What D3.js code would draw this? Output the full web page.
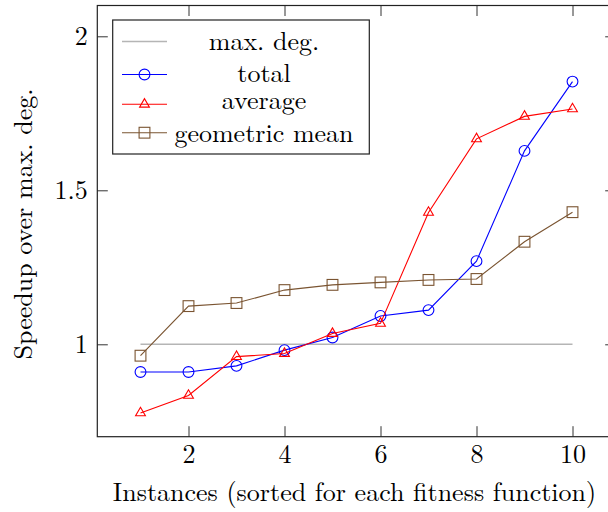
<!DOCTYPE html>
<html><head><meta charset="utf-8">
<script src="https://cdn.jsdelivr.net/npm/d3@7"></script>
<style>
html,body{margin:0;padding:0;background:#fff;}
</style></head>
<body><svg id="chart" width="608" height="512"></svg>
<script>
const xs = [1,2,3,4,5,6,7,8,9,10];
const maxDeg = [1,1,1,1,1,1,1,1,1,1];
const total = [0.910,0.910,0.930,0.981,1.022,1.092,1.111,1.270,1.628,1.853];
const average = [0.777,0.834,0.960,0.970,1.035,1.068,1.428,1.667,1.740,1.764];
const geoMean = [0.963,1.124,1.134,1.176,1.193,1.201,1.209,1.212,1.333,1.429];
const xTicks = [2,4,6,8,10];
const yTicks = [1,1.5,2];
const yTickLabels = ["1","1.5","2"];
const legendLabels = ["max. deg.","total","average","geometric mean"];

const FONT = '"Latin Modern Roman","Liberation Serif",serif';
const svg = d3.select("#chart");
const L=97.3, R=615.7, T=5.5, B=436.7;
const x = d3.scaleLinear().domain([0.1,10.9]).range([L,R]);
const y = d3.scaleLinear().domain([0.7,2.1]).range([B,T]);
const FS = 26;
const tickLen = 10.5;

const gAx = svg.append("g");
const axB = d3.axisBottom(x).tickValues(xTicks).tickSize(-tickLen).tickFormat(d=>d);
const axT = d3.axisTop(x).tickValues(xTicks).tickSize(-tickLen).tickFormat("");
const axL = d3.axisLeft(y).tickValues(yTicks).tickSize(-tickLen).tickFormat((d,i)=>yTickLabels[i]);
const axR = d3.axisRight(y).tickValues(yTicks).tickSize(-tickLen).tickFormat("");
function style(g){
  g.attr("font-family",FONT).attr("font-size",FS);
  g.select(".domain").remove();
  g.selectAll(".tick line").attr("stroke","#333").attr("stroke-width",1);
  g.selectAll(".tick text").style("font-size",FS+"px").style("font-family",FONT).attr("fill","#000");
}
gAx.append("g").attr("transform",`translate(0,${B})`).call(axB).call(style)
  .selectAll(".tick text").attr("y",0).attr("dy",0).attr("transform","translate(0,26.5)");
gAx.append("g").attr("transform",`translate(0,${T})`).call(axT).call(style);
gAx.append("g").attr("transform",`translate(${L},0)`).call(axL).call(style)
  .selectAll(".tick text").attr("x",-9.5).attr("dy","0.33em");
gAx.append("g").attr("transform",`translate(${R},0)`).call(axR).call(style);

const line = d3.line().x((d,i)=>x(xs[i])).y(d=>y(d));
const plot = svg.append("g");

plot.append("path").datum(maxDeg).attr("d",line).attr("fill","none").attr("stroke","#b5b5b5").attr("stroke-width",1.6);

const series = [
  {vals: total, color:"#0000ff", mark:"circle"},
  {vals: average, color:"#ff0000", mark:"triangle"},
  {vals: geoMean, color:"#7a5431", mark:"square"}
];
const rM = 5.4;
function drawMark(g, type, cx, cy, color){
  if(type==="circle"){
    g.append("circle").attr("cx",cx).attr("cy",cy).attr("r",rM).attr("fill","none").attr("stroke",color).attr("stroke-width",1.1);
  } else if(type==="triangle"){
    const r=rM*1.05;
    const pts=[[cx,cy-r],[cx-0.866*r,cy+0.5*r],[cx+0.866*r,cy+0.5*r]];
    g.append("path").attr("d","M"+pts.map(p=>p.join(",")).join("L")+"Z").attr("fill","none").attr("stroke",color).attr("stroke-width",1.1);
  } else {
    const h=rM;
    g.append("rect").attr("x",cx-h).attr("y",cy-h).attr("width",2*h).attr("height",2*h).attr("fill","none").attr("stroke",color).attr("stroke-width",1.1);
  }
}
series.forEach(s=>{
  plot.append("path").datum(s.vals).attr("d",line).attr("fill","none").attr("stroke",s.color).attr("stroke-width",1.1);
  const gm = plot.append("g");
  s.vals.forEach((v,i)=>drawMark(gm,s.mark,x(xs[i]),y(v),s.color));
});

svg.append("rect").attr("x",L).attr("y",T).attr("width",R-L).attr("height",B-T).attr("fill","none").attr("stroke","#222").attr("stroke-width",1.2);

const lg = svg.append("g");
lg.append("rect").attr("x",112.7).attr("y",20).attr("width",256.6).attr("height",134).attr("fill","#fff").attr("stroke","#222").attr("stroke-width",1.2);
const rowsY = [41.5, 74.5, 104.3, 132.7];
const baseY = [49.5, 81.5, 108.5, 141.5];
const legendStyles = [
  {color:"#b5b5b5", mark:null, w:1.6},
  {color:"#0000ff", mark:"circle", w:1.1},
  {color:"#ff0000", mark:"triangle", w:1.1},
  {color:"#7a5431", mark:"square", w:1.1}
];
legendLabels.forEach((lab,i)=>{
  const st = legendStyles[i];
  lg.append("line").attr("x1",122).attr("x2",167).attr("y1",rowsY[i]).attr("y2",rowsY[i]).attr("stroke",st.color).attr("stroke-width",st.w);
  if(st.mark) drawMark(lg, st.mark, 144.5, rowsY[i], st.color);
  lg.append("text").attr("x",264).attr("y",baseY[i]).attr("text-anchor","middle")
    .style("font-family",FONT).style("font-size",FS+"px").attr("fill","#000").text(lab);
});

svg.append("text").attr("x",354.5).attr("y",501).attr("text-anchor","middle")
  .style("font-family",FONT).style("font-size",FS+"px").attr("fill","#000")
  .text("Instances (sorted for each fitness function)");
svg.append("text").attr("transform","translate(31.5,224) rotate(-90)").attr("text-anchor","middle")
  .style("font-family",FONT).style("font-size",FS+"px").attr("fill","#000")
  .text("Speedup over max. deg.");
</script></body></html>
